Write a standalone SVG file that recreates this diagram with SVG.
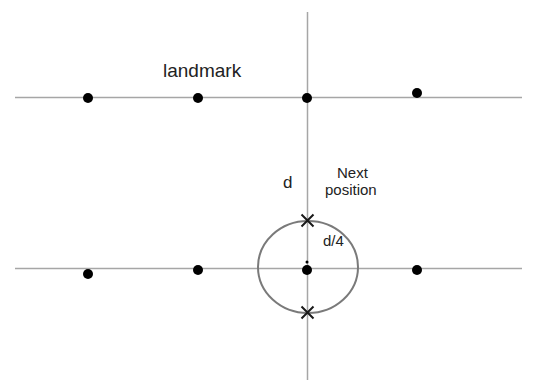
<svg xmlns="http://www.w3.org/2000/svg" width="537" height="380" viewBox="0 0 537 380">
<style>
.axis{stroke:#a6a6a6;stroke-width:1.5;fill:none}
.pt{fill:#000}
.lbl{font-family:"Liberation Sans",Arial,sans-serif;fill:#222}
.cross{stroke:#1a1a1a;stroke-width:2}
</style>
<rect width="537" height="380" fill="#fff"/>
<g id="connectors">
<line class="axis" x1="15" y1="97.5" x2="522" y2="97.5"/>
<line class="axis" x1="15" y1="268.5" x2="522" y2="268.5"/>
<line class="axis" x1="307.5" y1="12" x2="307.5" y2="380"/>
</g>
<g id="top-row">
<circle class="pt" cx="88" cy="98" r="5"/>
<circle class="pt" cx="198" cy="98" r="5"/>
<circle class="pt" cx="307" cy="98" r="5"/>
<circle class="pt" cx="417" cy="93" r="5"/>
</g>
<g id="bottom-row">
<circle class="pt" cx="88" cy="274" r="5"/>
<circle class="pt" cx="198" cy="270" r="5"/>
<circle class="pt" cx="307" cy="270" r="5"/>
<circle class="pt" cx="417" cy="270" r="5"/>
<circle class="pt" cx="307" cy="262" r="1.5"/>
</g>
<g id="range">
<ellipse cx="308" cy="267" rx="50" ry="46" fill="none" stroke="#7a7a7a" stroke-width="2"/>
<path class="cross" d="M301.5,214.5 L313.5,226.5 M313.5,214.5 L301.5,226.5"/>
<path class="cross" d="M301.5,306.5 L313.5,318.5 M313.5,306.5 L301.5,318.5"/>
</g>
<g id="labels">
<text class="lbl" x="163" y="77" font-size="19">landmark</text>
<text class="lbl" x="283" y="188" font-size="17">d</text>
<text class="lbl" x="337" y="178" font-size="15">Next</text>
<text class="lbl" x="325" y="195" font-size="15">position</text>
<text class="lbl" x="323" y="246" font-size="15">d/4</text>
</g>
</svg>
